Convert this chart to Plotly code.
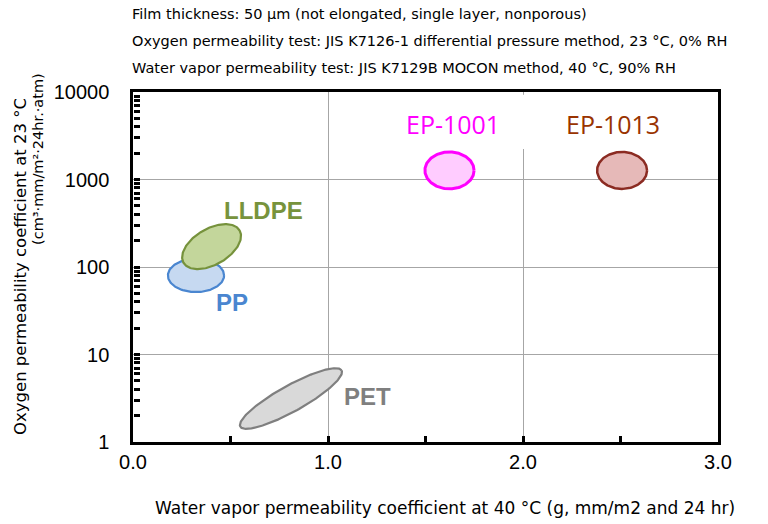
import numpy as np
import plotly.graph_objects as go

# ---- data ----
materials = ["PP", "LLDPE", "PET", "EP-1001", "EP-1013"]
wvp_center = [0.323, 0.403, 0.81, 1.623, 2.508]        # water vapor permeability (x)
o2_center = [80, 171, 3.14, 1270, 1270]                 # oxygen permeability (y, log)
# spread of each region: semi-axes (x units / decades) and tilt (deg, screen)
semi_major = [0.144, 0.166, 0.297, 0.126, 0.128]
semi_minor = [0.19, 0.206, 0.149, 0.211, 0.211]
tilt_deg = [0, 30, 29, 0, 0]
label_x = [0.508, 0.667, 1.2, 1.641, 2.462]
label_y = [38.8, 448, 3.27, 4307, 4307]

x_range = [0, 3]
y_range_log = [0, 4]
x_tick_marks = [0.5, 1.0, 1.5, 2.0, 2.5]
y_tick_marks = [m * 10 ** d for d in range(4) for m in range(1, 10)][1:]

# ---- styles ----
fills = ["#C6D9F1", "#C3D69B", "#D9D9D9", "#FFCCFF", "#E6B9B8"]
borders = ["#4A86D0", "#76923C", "#7F7F7F", "#FF00FF", "#8B2B22"]
border_w = [2.2, 2.2, 2.2, 3, 2.5]
label_colors = ["#4A86D0", "#77933C", "#7F7F7F", "#FF00FF", "#993300"]
label_bold = [True, True, True, False, False]

W, H = 768, 524
ML, MR, MT, MB = 133, 50, 92, 82
pw, ph = W - ML - MR, H - MT - MB
PX_X = pw / (x_range[1] - x_range[0])
PX_Y = ph / (y_range_log[1] - y_range_log[0])

fig = go.Figure()
t = np.linspace(0, 2 * np.pi, 181)
for i, m in enumerate(materials):
    a = semi_major[i] * PX_X
    b = semi_minor[i] * PX_Y
    th = np.deg2rad(tilt_deg[i])
    ex = a * np.cos(t)
    ey = b * np.sin(t)
    rx = ex * np.cos(th) - ey * np.sin(th)
    ry = ex * np.sin(th) + ey * np.cos(th)
    xs = wvp_center[i] + rx / PX_X
    ys = 10 ** (np.log10(o2_center[i]) + ry / PX_Y)
    fig.add_trace(go.Scatter(x=xs, y=ys, mode="lines", fill="toself",
                             fillcolor=fills[i],
                             line=dict(color=borders[i], width=border_w[i]),
                             hoverinfo="skip", showlegend=False))
    fig.add_annotation(x=label_x[i], y=np.log10(label_y[i]), xref="x", yref="y",
                       text=f"<b>{m}</b>" if label_bold[i] else m, showarrow=False,
                       font=dict(family="Liberation Sans, Arial" if label_bold[i] else "Open Sans",
                                 size=24 if label_bold[i] else 25,
                                 color=label_colors[i]))

# invisible traces to anchor the tick-mark overlay axes
fig.add_trace(go.Scatter(x=[x_range[0]], y=[1], xaxis="x2", yaxis="y", mode="markers",
                         marker=dict(opacity=0), hoverinfo="skip", showlegend=False))
fig.add_trace(go.Scatter(x=[x_range[0]], y=[1], xaxis="x", yaxis="y2", mode="markers",
                         marker=dict(opacity=0), hoverinfo="skip", showlegend=False))

# gap in the 2.0 gridline near the top
fig.add_shape(type="line", x0=2.0, x1=2.0, y0=2230, y1=9300, xref="x", yref="y",
              line=dict(color="white", width=3), layer="above")

fig.update_layout(
    xaxis=dict(range=x_range, dtick=1, tick0=0, tickformat=".1f",
               showline=True, linecolor="black", linewidth=3, mirror=True,
               ticks="", showgrid=True, gridcolor="#A6A6A6", gridwidth=1, zeroline=False,
               tickfont=dict(family="Liberation Sans, Arial", size=20, color="black")),
    yaxis=dict(type="log", range=y_range_log, dtick=1, tickformat="d", ticksuffix="   ",
               showline=True, linecolor="black", linewidth=3, mirror=True,
               ticks="", showgrid=True, gridcolor="#A6A6A6", gridwidth=1, zeroline=False,
               tickfont=dict(family="Liberation Sans, Arial", size=20, color="black")),
    # tick-mark axes: placed on the plot edges, ticks pointing into the plot
    xaxis2=dict(range=x_range, overlaying="x", anchor="free", position=0, side="top",
                tickmode="array", tickvals=x_tick_marks, ticks="outside", ticklen=6,
                tickwidth=2.5, tickcolor="black", showticklabels=False,
                showgrid=False, zeroline=False, showline=False),
    yaxis2=dict(type="log", range=y_range_log, overlaying="y", anchor="free", position=0,
                side="right", tickmode="array", tickvals=y_tick_marks, ticks="outside",
                ticklen=6, tickwidth=2.5, tickcolor="black", showticklabels=False,
                showgrid=False, zeroline=False, showline=False),
)


def px_to_paper(xp, yp):
    return (xp - ML) / pw, (H - MB - yp) / ph


title_font = dict(family="DejaVu Sans", size=14.5, color="black")
top_lines = [
    "Film thickness: 50 μm (not elongated, single layer, nonporous)",
    "Oxygen permeability test: JIS K7126-1 differential pressure method, 23 °C, 0% RH",
    "Water vapor permeability test: JIS K7129B MOCON method, 40 °C, 90% RH",
]
for k, line in enumerate(top_lines):
    px, py = px_to_paper(130, 14 + 27 * k)
    fig.add_annotation(x=px, y=py, xref="paper", yref="paper", text=line,
                       showarrow=False, xanchor="left", yanchor="middle", font=title_font)

px, py = px_to_paper(445, 508)
fig.add_annotation(x=px, y=py, xref="paper", yref="paper",
                   text="Water vapor permeability coefficient at 40 °C (g, mm/m2 and 24 hr)",
                   showarrow=False, xanchor="center", yanchor="middle",
                   font=dict(family="DejaVu Sans", size=17, color="black"))
px, py = px_to_paper(20, 267)
fig.add_annotation(x=px, y=py, xref="paper", yref="paper",
                   text="Oxygen permeability coefficient at 23 °C", textangle=-90,
                   showarrow=False, xanchor="center", yanchor="middle",
                   font=dict(family="DejaVu Sans", size=16.5, color="black"))
px, py = px_to_paper(38, 159)
fig.add_annotation(x=px, y=py, xref="paper", yref="paper",
                   text="(cm³·mm/m²·24hr.·atm)", textangle=-90,
                   showarrow=False, xanchor="center", yanchor="middle",
                   font=dict(family="DejaVu Sans", size=14.5, color="black"))

fig.update_layout(
    width=W, height=H,
    margin=dict(l=ML, r=MR, t=MT, b=MB),
    plot_bgcolor="white", paper_bgcolor="white",
)

fig.write_html("out.html")
